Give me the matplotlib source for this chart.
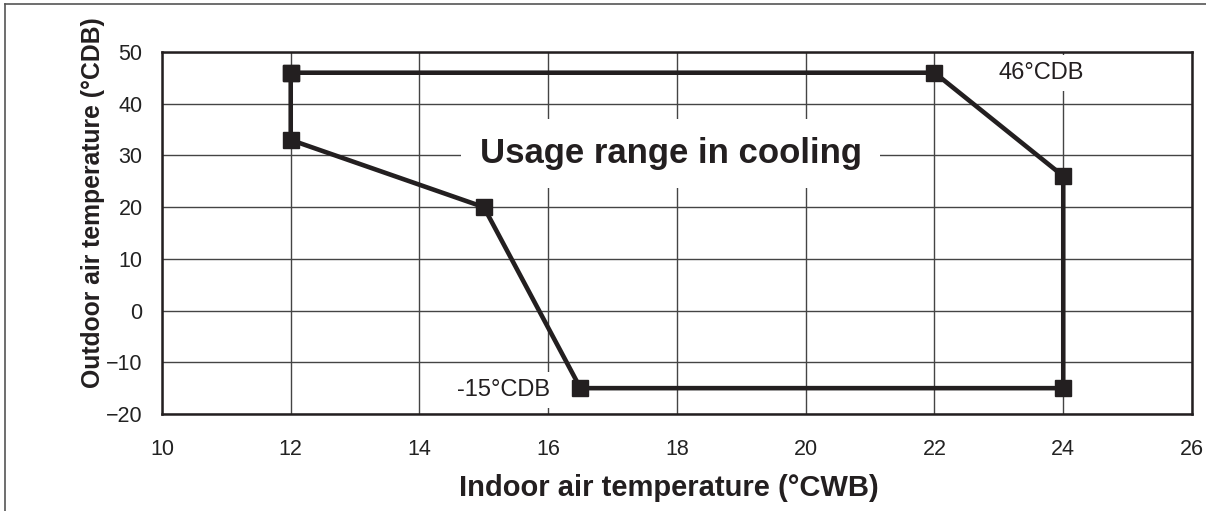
import matplotlib
matplotlib.use("Agg")
import matplotlib.pyplot as plt
from matplotlib.lines import Line2D

plt.rcParams['font.family'] = ['Liberation Sans', 'DejaVu Sans']

# Operating envelope corners (indoor WB, outdoor DB), closed polygon
indoor_wb = [12, 22, 24, 24, 16.5, 15, 12, 12]
outdoor_db = [46, 46, 26, -15, -15, 20, 33, 46]

x_ticks = [10, 12, 14, 16, 18, 20, 22, 24, 26]
y_ticks = [-20, -10, 0, 10, 20, 30, 40, 50]

ink = '#231f20'

fig = plt.figure(figsize=(12.06, 5.11), dpi=100)
ax = fig.add_axes([0.1343, 0.1898, 0.8541, 0.7084])

ax.plot(indoor_wb, outdoor_db, color=ink, linewidth=3.3, marker='s',
        markersize=12, markerfacecolor=ink, markeredgecolor=ink,
        solid_joinstyle='miter', zorder=3)

ax.set_xlim(10, 26)
ax.set_ylim(-20, 50)
ax.set_xticks(x_ticks)
ax.set_yticks(y_ticks)
ax.set_yticklabels([str(v).replace('-', '\u2212') for v in y_ticks])
ax.tick_params(length=0, labelsize=15.5, colors='#222222')
ax.tick_params(axis='x', pad=18)
ax.tick_params(axis='y', pad=14)
ax.grid(True, color='#444444', linewidth=1.0)
ax.set_axisbelow(True)
for sp in ax.spines.values():
    sp.set_linewidth(1.8)
    sp.set_color(ink)

ax.set_xlabel('Indoor air temperature (\u00b0CWB)', fontsize=21,
              fontweight='bold', color=ink)
ax.set_ylabel('Outdoor air temperature (\u00b0CDB)', fontsize=17.8,
              fontweight='bold', color=ink)
ax.xaxis.set_label_coords(0.492, -0.165)
ax.yaxis.set_label_coords(-0.055, 0.583)

# Annotations with white boxes cutting through the grid
ax.text(17.9, 30.3, 'Usage range in cooling', fontsize=25, fontweight='bold',
        color=ink, ha='center', va='center', zorder=2,
        bbox=dict(facecolor='white', edgecolor='none', pad=13))
ax.text(23.65, 45.9, '46\u00b0CDB', fontsize=17, color=ink, ha='center',
        va='center', zorder=2,
        bbox=dict(facecolor='white', edgecolor='none', pad=5))
ax.text(15.31, -15.4, '-15\u00b0CDB', fontsize=17, color=ink, ha='center',
        va='center', zorder=2,
        bbox=dict(facecolor='white', edgecolor='none', pad=5))

# Frame lines along the left and top of the figure
fig.add_artist(Line2D([0.0045, 0.0045], [0, 0.992], transform=fig.transFigure,
                      color='#555555', linewidth=1.2))
fig.add_artist(Line2D([0.0045, 1.0], [0.992, 0.992], transform=fig.transFigure,
                      color='#555555', linewidth=1.2))

fig.savefig('out.png', dpi=100)
